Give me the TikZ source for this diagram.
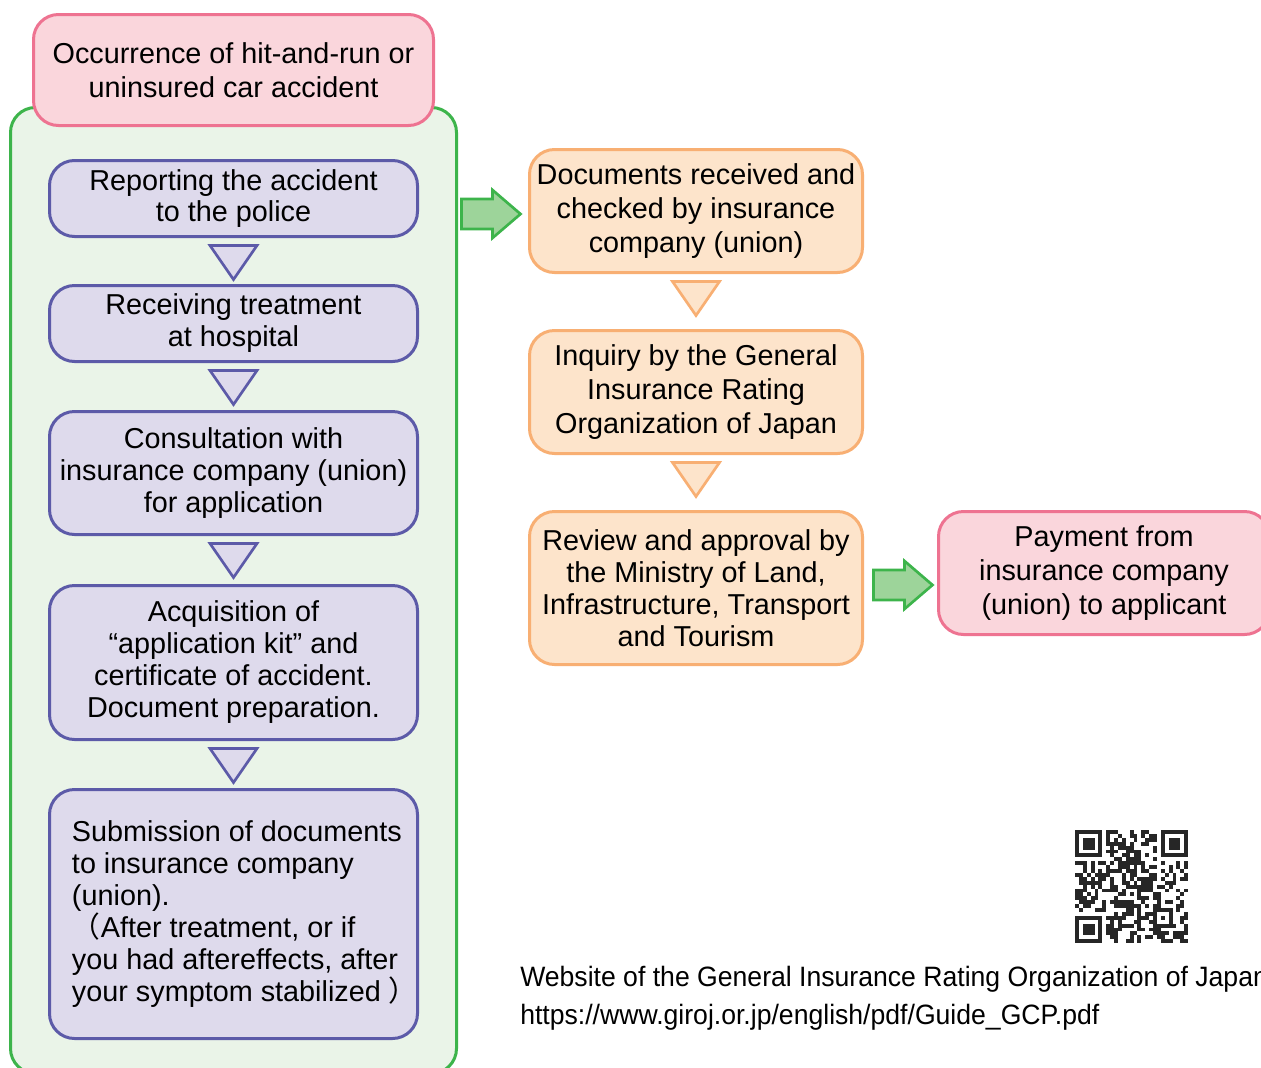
\documentclass[tikz,border=0pt]{standalone}
\usepackage{fontspec}
\setmainfont{Liberation Sans}
\newfontfamily\cjkfont{Noto Sans CJK JP}
\newfontfamily\narrowfont[FakeStretch=0.95]{Liberation Sans}
\usetikzlibrary{calc}
\definecolor{pinkfill}{HTML}{FAD6DC}
\definecolor{pinkline}{HTML}{EE7391}
\definecolor{greenfill}{HTML}{EAF4E8}
\definecolor{greenline}{HTML}{3DB44B}
\definecolor{lavfill}{HTML}{DEDAEC}
\definecolor{lavline}{HTML}{5C5AA8}
\definecolor{peachfill}{HTML}{FDE4CB}
\definecolor{peachline}{HTML}{F8AF73}
\definecolor{arrowfill}{HTML}{9DD49A}
\newcommand\downtri[2]{\draw[#2] ($(#1.south)+(-23.5,7.5)$) -- ($(#1.south)+(23.5,7.5)$) -- ($(#1.south)+(0,41.5)$) -- cycle;}
\begin{document}
\begin{tikzpicture}[x=0.75pt,y=-0.75pt,
  box/.style={draw, line width=2.25pt, rounded corners=18.75pt, inner sep=0pt, text=black},
  boxfont/.style={font=\fontsize{21.6pt}{#1}\selectfont},
  pinkbox/.style={box, fill=pinkfill, draw=pinkline, align=center, boxfont=25.5pt},
  container/.style={box, fill=greenfill, draw=greenline},
  lavbase/.style={box, fill=lavfill, draw=lavline, minimum width=276pt, boxfont=24pt},
  lavbox/.style={lavbase, align=center},
  peachbox/.style={box, fill=peachfill, draw=peachline, minimum width=249.75pt, align=center, boxfont=25.5pt},
  lavtri/.style={draw=lavline, fill=lavfill, line width=2pt, line join=miter},
  peachtri/.style={draw=peachline, fill=peachfill, line width=2pt, line join=miter},
  garrow/.style={draw=greenline, fill=arrowfill, line width=2pt, line join=miter},
  qr/.style={fill=black!85},
  qrwhite/.style={fill=white},
  weblabel/.style={anchor=base west, inner sep=0pt, text=black, font=\narrowfont\fontsize{21pt}{25pt}\selectfont}
]
\useasboundingbox (0,0) rectangle (1261,1068);
\clip (0,0) rectangle (1261,1068);
\fill[white] (0,0) rectangle (1261,1068);

% left column
\node[container, minimum width=334.5pt, minimum height=724.5pt] (container) at (233.5,590.5) {};
\node[pinkbox, minimum width=300pt, minimum height=83.25pt] (occ) at (233.5,70) {Occurrence of hit-and-run or\\uninsured car accident};
\node[lavbox, minimum height=57pt, boxfont=23.3pt] (r1) at (233.5,198.5) {Reporting the accident\\to the police};
\node[lavbox, minimum height=57pt] (r2) at (233.5,323.5) {Receiving treatment\\at hospital};
\node[lavbox, minimum height=92.25pt] (r3) at (233.5,473) {Consultation with\\insurance company (union)\\for application};
\node[lavbox, minimum height=115.5pt] (r4) at (233.5,662.5) {Acquisition of\\“application kit” and\\certificate of accident.\\Document preparation.};
\node[lavbase, minimum height=186.75pt] (r5) at (233.5,914) {\hspace*{12.75pt}\parbox{255pt}{\raggedright Submission of documents\\to insurance company\\(union).\\\mbox{{\cjkfont （}After treatment, or if}\\you had aftereffects, after\\\mbox{your symptom stabilized {\cjkfont ）}}}};
\downtri{r1}{lavtri}
\downtri{r2}{lavtri}
\downtri{r3}{lavtri}
\downtri{r4}{lavtri}

% right column
\node[peachbox, minimum height=92.25pt] (doc) at (696,211) {Documents received and\\checked by insurance\\company (union)};
\node[peachbox, minimum height=92.25pt] (inq) at (696,392) {Inquiry by the General\\Insurance Rating\\Organization of Japan};
\node[peachbox, minimum height=114.75pt, boxfont=24pt] (rev) at (696,588) {Review and approval by\\the Ministry of Land,\\Infrastructure, Transport\\and Tourism};
\node[pinkbox, minimum width=248.25pt, minimum height=92.25pt] (pay) at (1104,573) {Payment from\\insurance company\\(union) to applicant};
\downtri{doc}{peachtri}
\downtri{inq}{peachtri}

% green block arrows
\draw[garrow] ($(doc.west)+(-66.5,-12)$) -- ++(31,0) -- ++(0,-9) -- ++(28,24) -- ++(-28,24) -- ++(0,-9) -- ++(-31,0) -- cycle;
\draw[garrow] ($(rev.east)+(9.5,-18)$) -- ++(31,0) -- ++(0,-9) -- ++(28,24) -- ++(-28,24) -- ++(0,-9) -- ++(-31,0) -- cycle;

% QR code
\pgfmathsetseed{2718}
\foreach \i in {0,...,28}{\foreach \j in {0,...,28}{%
  \pgfmathsetmacro\qrr{rnd}%
  \ifdim\qrr pt<0.5pt \fill[qr] ({1075+\i*3.9},{830+\j*3.9}) rectangle ++(3.9,3.9);\fi}}
\foreach \fx/\fy in {0/0,22/0,0/22}{
  \fill[qrwhite] ({1075+(\fx-1)*3.9},{830+(\fy-1)*3.9}) rectangle ++(35.1,35.1);
  \fill[qr] ({1075+\fx*3.9},{830+\fy*3.9}) rectangle ++(27.3,27.3);
  \fill[qrwhite] ({1075+(\fx+1)*3.9},{830+(\fy+1)*3.9}) rectangle ++(19.5,19.5);
  \fill[qr] ({1075+(\fx+2)*3.9},{830+(\fy+2)*3.9}) rectangle ++(11.7,11.7);
}
\fill[qr] ({1075+20*3.9},{830+20*3.9}) rectangle ++(19.5,19.5);
\fill[qrwhite] ({1075+21*3.9},{830+21*3.9}) rectangle ++(11.7,11.7);
\fill[qr] ({1075+22*3.9},{830+22*3.9}) rectangle ++(3.9,3.9);

% website text
\node[weblabel] (web1) at (520,986) {Website of the General Insurance Rating Organization of Japan};
\node[weblabel] (web2) at (520,1024) {https://www.giroj.or.jp/english/pdf/Guide\_GCP.pdf};
\end{tikzpicture}
\end{document}
